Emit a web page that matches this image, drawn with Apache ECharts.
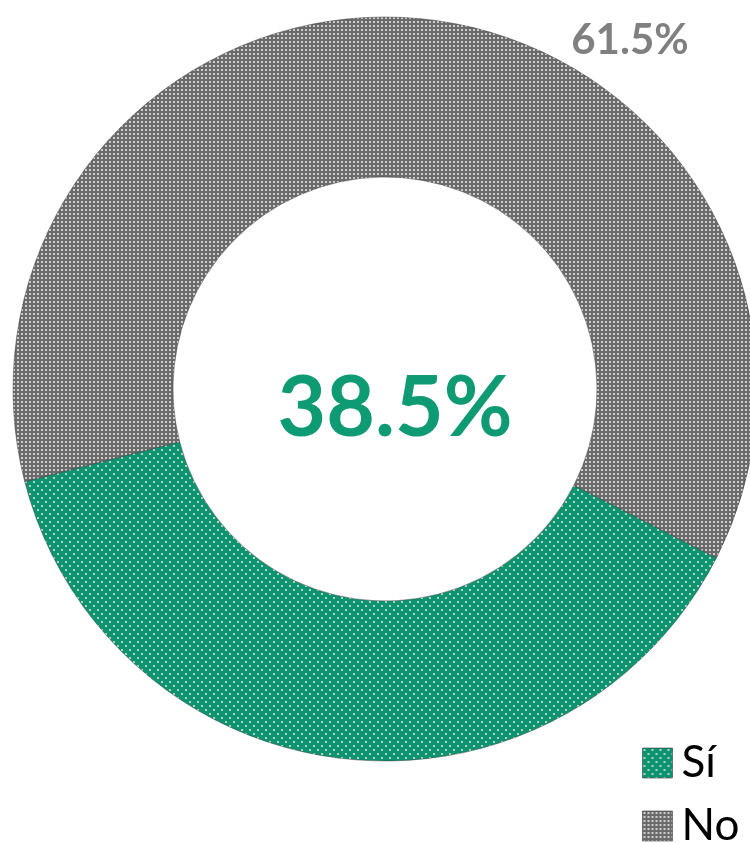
<!DOCTYPE html>
<html>
<head>
<meta charset="utf-8">
<style>
  html, body { margin: 0; padding: 0; background: #ffffff; }
  #chart { width: 750px; height: 843px; }
</style>
<script src="https://cdn.jsdelivr.net/npm/echarts@6/dist/echarts.min.js"></script>
</head>
<body>
<div id="chart"></div>
<script>
// Respuestas: Sí / No (porcentaje)
const categories = ['Sí', 'No'];
const values = [38.5, 61.5];

// Textured fills: dotted green and gridded grey
function makePattern(base, dot, size, dots, dotW, dotH) {
  const c = document.createElement('canvas');
  c.width = size; c.height = size;
  const g = c.getContext('2d');
  g.fillStyle = base;
  g.fillRect(0, 0, size, size);
  g.fillStyle = dot;
  dots.forEach(function (p) { g.fillRect(p[0], p[1], dotW, dotH); });
  return c;
}
const greenTex = makePattern('#0b9470', '#b9cfc6', 8, [[1, 1], [5, 5]], 2, 2);
const greyTex = makePattern('#6a6a6a', '#cdcdcd', 4, [[1, 1]], 2, 2);

const fills = [
  { image: greenTex, repeat: 'repeat' },
  { image: greyTex, repeat: 'repeat' }
];

// One legend block per answer, stacked in the lower-right corner
const legendTops = [741, 804];
const legends = categories.map(function (name, i) {
  return {
    orient: 'vertical',
    left: 642,
    top: legendTops[i],
    padding: 0,
    itemWidth: 30,
    itemHeight: 30,
    icon: 'rect',
    itemStyle: { borderColor: 'rgba(60,60,60,0.6)', borderWidth: 1 },
    textStyle: { fontFamily: 'Lato', fontSize: 44, color: '#000000', padding: [0, 0, 0, 4] },
    data: [name]
  };
});

const chart = echarts.init(document.getElementById('chart'), null, { renderer: 'canvas' });
chart.setOption({
  animation: false,
  legend: legends,
  series: [{
    type: 'pie',
    center: [385, 389],
    radius: [212, 372],
    startAngle: -27,
    clockwise: true,
    avoidLabelOverlap: false,
    labelLine: { show: false },
    itemStyle: { borderColor: 'rgba(50,50,50,0.45)', borderWidth: 1 },
    data: categories.map(function (name, i) {
      const isYes = i === 0;
      return {
        name: name,
        value: values[i],
        itemStyle: { color: fills[i] },
        label: {
          show: true,
          position: isYes ? 'center' : 'outside',
          formatter: function (p) { return p.value.toFixed(1) + '%'; },
          fontFamily: 'Lato',
          fontWeight: 'bold',
          fontSize: isYes ? 84 : 42,
          color: isYes ? '#0e9a72' : '#808080'
        }
      };
    }),
    labelLayout: function (p) {
      if (p.dataIndex === 0) return { dx: 10, dy: 20 };
      return { x: 630, y: 40, align: 'center', verticalAlign: 'middle' };
    }
  }]
});
</script>
</body>
</html>
